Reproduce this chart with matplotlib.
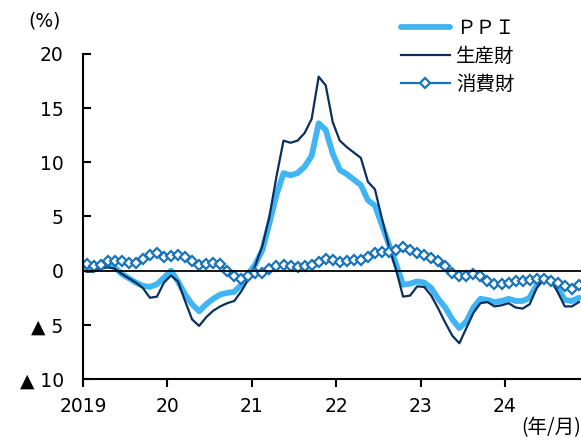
import numpy as np
import matplotlib
matplotlib.use("Agg")
import matplotlib.pyplot as plt

plt.rcParams['font.family'] = ['Noto Sans CJK JP', 'DejaVu Sans']

# monthly data, Jan 2019 - Nov 2024 (% y/y)
ppi = [0.2, 0.3, 0.5, 0.6, 0.3, -0.3, -0.7, -1.1, -1.4, -1.5,
       -1.25, -0.65, 0.0, -1.0, -2.2, -3.1, -3.75, -3.1, -2.6, -2.2,
       -2.05, -1.95, -1.3, -0.3, 0.6, 1.9, 4.4, 7.0, 9.0, 8.8,
       9.0, 9.6, 10.6, 13.6, 13.0, 10.8, 9.3, 8.9, 8.4, 7.9,
       6.5, 6.0, 4.2, 2.4, 0.6, -1.3, -1.2, -1.0, -1.1, -1.6,
       -2.6, -3.4, -4.5, -5.3, -4.7, -3.4, -2.6, -2.7, -2.9, -2.8,
       -2.6, -2.8, -2.8, -2.5, -1.3, -0.7, -0.8, -1.6, -2.7, -2.8, -2.5]
producer = [-0.1, -0.1, 0.2, 0.3, 0.2, -0.3, -0.7, -1.1, -1.6, -2.5,
            -2.4, -1.1, -0.45, -1.0, -2.8, -4.5, -5.1, -4.3, -3.7, -3.3,
            -3.0, -2.8, -1.9, -0.8, 0.5, 2.3, 5.0, 8.7, 12.0, 11.8,
            12.0, 12.7, 14.0, 17.9, 17.1, 13.7, 12.0, 11.4, 10.9, 10.4,
            8.2, 7.5, 4.8, 2.2, 0.1, -2.4, -2.3, -1.45, -1.5, -2.3,
            -3.5, -4.8, -6.0, -6.7, -5.3, -3.9, -3.0, -2.9, -3.3, -3.2,
            -3.0, -3.4, -3.5, -3.1, -1.6, -0.8, -0.8, -2.0, -3.3, -3.3, -2.9]
consumer = [0.6, 0.4, 0.55, 0.85, 0.85, 0.85, 0.75, 0.7, 1.1, 1.4,
            1.6, 1.3, 1.35, 1.4, 1.25, 0.9, 0.5, 0.65, 0.7, 0.6,
            -0.05, -0.45, -0.8, -0.45, -0.25, -0.25, 0.15, 0.4, 0.55, 0.4,
            0.35, 0.4, 0.55, 0.8, 1.05, 0.95, 0.8, 0.85, 0.95, 1.0,
            1.25, 1.6, 1.7, 1.7, 1.95, 2.2, 1.95, 1.65, 1.4, 1.15,
            0.85, 0.45, -0.2, -0.5, -0.45, -0.3, -0.45, -0.95, -1.2, -1.2,
            -1.1, -1.0, -1.0, -0.9, -0.8, -0.8, -1.0, -1.15, -1.4, -1.7, -1.3]
year_labels = ["2019", "20", "21", "22", "23", "24"]
y_ticks = [20, 15, 10, 5, 0, -5, -10]
y_labels = ["20", "15", "10", "5", "0", "▲ 5", "▲ 10"]

x = np.arange(len(ppi)) + 0.5

fig = plt.figure(figsize=(5.81, 4.42), dpi=100)
ax = fig.add_axes([0.143, 0.1425, 0.857, 0.7355])

ax.plot(x, ppi, color='#3FB5F3', lw=4.2, label='ＰＰＩ', solid_capstyle='round')
ax.plot(x, producer, color='#0A2F5E', lw=1.6, label='生産財')
ax.plot(x, consumer, color='#1A74BC', lw=1.6, marker='D', ms=5.2,
        mfc='white', mec='#1A74BC', mew=1.6, label='消費財')
ax.axhline(0, color='black', lw=1.3)

ax.set_xlim(0, 70.8)
ax.set_ylim(-10, 20)
ax.set_xticks(np.arange(0, 72, 12))
ax.set_xticklabels(year_labels, family='DejaVu Sans')
ax.set_yticks(y_ticks)
ax.set_yticklabels(y_labels, family='DejaVu Sans')
ax.tick_params(axis='y', direction='in', length=6, width=1.5, labelsize=13.5, pad=14)
ax.tick_params(axis='x', direction='out', length=6, width=1.5, labelsize=13.5, pad=7)

for s in ['top', 'right']:
    ax.spines[s].set_visible(False)
for s in ['left', 'bottom']:
    ax.spines[s].set_linewidth(1.5)

fig.text(0.048, 0.952, '(%)', fontsize=13.5, va='center', family='DejaVu Sans')
fig.text(0.898, 0.032, '(年/月)', fontsize=14, va='center')

ax.legend(loc='upper left', bbox_to_anchor=(0.66, 1.0), bbox_transform=fig.transFigure,
          frameon=False, fontsize=14, handlelength=2.5, handletextpad=0.35,
          labelspacing=0.36)

fig.savefig('out.png', dpi=100)
